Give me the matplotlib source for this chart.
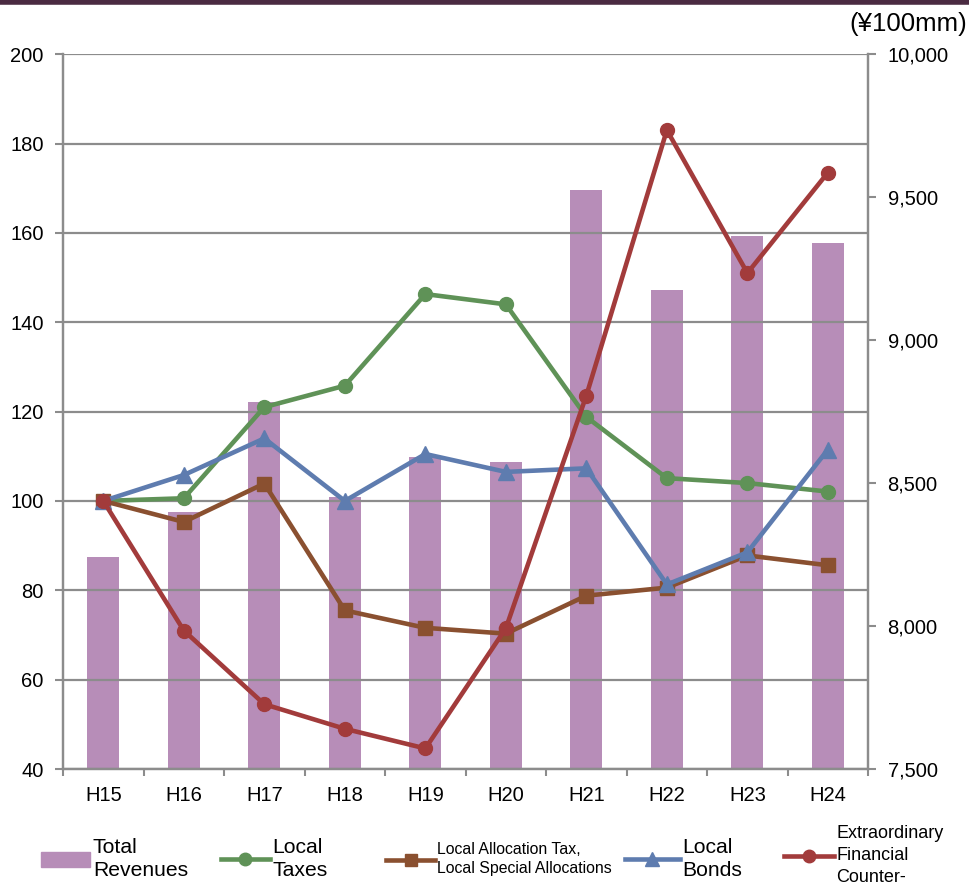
import numpy as np
import matplotlib.pyplot as plt
from matplotlib.lines import Line2D
from matplotlib.patches import Patch, Circle

plt.rcParams['font.family'] = ['Liberation Sans', 'DejaVu Sans']

years = ["H15", "H16", "H17", "H18", "H19", "H20", "H21", "H22", "H23", "H24"]
total_revenues = [8240, 8400, 8785, 8450, 8590, 8575, 9525, 9175, 9365, 9340]
local_taxes = [100, 100.6, 121, 125.8, 146.3, 144, 118.8, 105.1, 104, 102.1]
alloc_tax = [100, 95.3, 103.9, 75.5, 71.6, 70.3, 78.8, 80.6, 87.8, 85.6]
local_bonds = [100, 105.8, 114, 100, 110.5, 106.5, 107.3, 81.3, 88.5, 111.5]
extraordinary = [100, 71, 54.5, 49, 44.6, 71.5, 123.6, 183, 151, 173.5]

c_bar = '#B78DB8'
c_green = '#5F9257'
c_brown = '#8A5030'
c_blue = '#5E7CAF'
c_red = '#A23B3B'
grey = '#8C8C8C'

fig = plt.figure(figsize=(9.7, 8.88), dpi=100)
ax = fig.add_axes([0.065, 0.134, 0.83, 0.805])
ax2 = ax.twinx()

x = np.arange(len(years))

# bars on the right axis, drawn behind the lines
ax2.bar(x, total_revenues, width=0.4, color=c_bar, zorder=1)
ax2.set_ylim(7500, 10000)
ax2.set_yticks(np.arange(7500, 10001, 500))
ax2.set_yticklabels([f"{v:,}" for v in range(7500, 10001, 500)])

ax.set_zorder(ax2.get_zorder() + 1)
ax.patch.set_visible(False)

lw = 3.3
ax.plot(x, local_taxes, color=c_green, lw=lw, marker='o', ms=10, zorder=3)
ax.plot(x, alloc_tax, color=c_brown, lw=lw, marker='s', ms=10, zorder=3)
ax.plot(x, local_bonds, color=c_blue, lw=lw, marker='^', ms=11, zorder=3)
ax.plot(x, extraordinary, color=c_red, lw=lw, marker='o', ms=10, zorder=4)

ax.set_ylim(40, 200)
ax.set_yticks(np.arange(40, 201, 20))
ax.set_xlim(-0.5, len(years) - 0.5)
ax.set_xticks(x)
ax.set_xticklabels(years)
ax.set_xticks(np.arange(-0.5, len(years), 1), minor=True)
ax.grid(axis='y', color=grey, lw=1.6, zorder=0)
ax.set_axisbelow(True)

for a in (ax, ax2):
    for s in a.spines.values():
        s.set_color(grey)
        s.set_linewidth(1.6)
    a.spines['top'].set_visible(False)
    a.tick_params(axis='both', which='both', colors=grey, labelcolor='black',
                  labelsize=14.5, width=1.5, length=6)
ax.tick_params(axis='x', which='major', length=0, pad=12)
ax.tick_params(axis='x', which='minor', length=5)
ax.tick_params(axis='y', pad=8)
ax2.tick_params(axis='y', pad=8)

fig.text(0.997, 0.973, "(¥100mm)", ha='right', va='center', fontsize=18.5)

# header strip at the top
fig.add_artist(Line2D([0, 1], [0.998, 0.998], transform=fig.transFigure,
                      color='#4B2B42', lw=4))

# legend entries placed one by one
entries = [
    (Patch(color=c_bar), "Total\nRevenues", 0.042, 15.2, 2.35, 1.3, 0.0325),
    (Line2D([], [], color=c_green, lw=lw, marker='o', ms=9), "Local\nTaxes", 0.228, 15.2, 2.3, 1.3, 0.0325),
    (Line2D([], [], color=c_brown, lw=lw, marker='s', ms=9),
     "Local Allocation Tax,\nLocal Special Allocations", 0.398, 11.4, 3.1, 1.35, 0.0325),
    (Line2D([], [], color=c_blue, lw=lw, marker='^', ms=10), "Local\nBonds", 0.644, 15.2, 2.6, 1.3, 0.0325),
    (Line2D([], [], color=c_red, lw=lw, marker='o', ms=9),
     "Extraordinary\nFinancial\nCounter-", 0.808, 13, 2.8, 1.4, 0.0365),
]
for h, lab, xpos, fs, hl, ls, yc in entries:
    leg = fig.legend(handles=[h], labels=[lab], loc='center left', bbox_to_anchor=(xpos, yc),
                     frameon=False, fontsize=fs, handlelength=hl, handletextpad=0.12,
                     borderpad=0, borderaxespad=0, handleheight=0.7)
    for t in leg.get_texts():
        t.set_linespacing(ls)

fig.add_artist(Circle((0.026, -0.03), 0.024, transform=fig.transFigure,
                      facecolor='#FFFBE6', edgecolor='#C8B890', lw=1.5))

fig.savefig("out.png", dpi=100)
